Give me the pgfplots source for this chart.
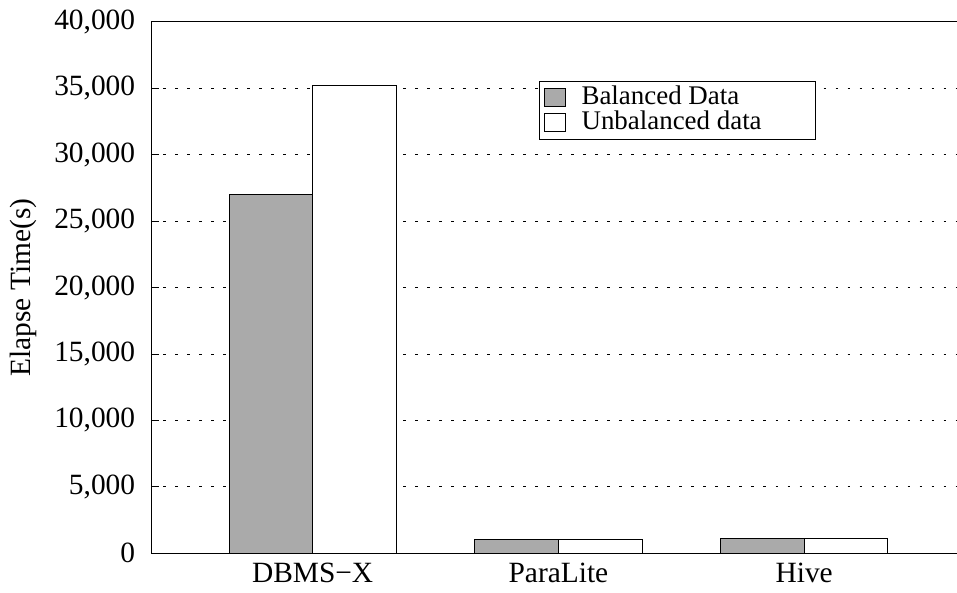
\documentclass[border=0pt]{standalone}
\usepackage{fontspec}
\setmainfont{Liberation Serif}
\usepackage{pgfplots}
\pgfplotsset{compat=1.18}
\definecolor{bargray}{HTML}{AAAAAA}
\begin{document}
\fontsize{29.5}{33}\selectfont
\begin{tikzpicture}
\begin{axis}[
  scale only axis,
  width=805bp, height=531bp,
  xmin=-0.657, xmax=2.62,
  ymin=0, ymax=40000,
  axis x line=box, axis y line=left,
  axis line style={-, black, line width=0.8pt},
  xtick={0,1,2},
  xticklabels={DBMS\textminus X, ParaLite, Hive},
  x tick style={draw=none},
  ytick={0,5000,...,40000},
  y tick style={black, line width=0.8pt},
  tick align=inside,
  major tick length=8bp,
  ymajorgrids,
  major grid style={black, line width=0.8pt, dash pattern=on 2.5bp off 9.5bp},
  /pgf/number format/assume math mode=true,
  yticklabel style={/pgf/number format/1000 sep={,}, font=\fontsize{29.5}{33}\selectfont, xshift=-6bp},
  xticklabel style={font=\fontsize{29.5}{33}\selectfont},
  scaled y ticks=false,
  ylabel={Elapse Time(s)},
  ylabel style={font=\fontsize{29.5}{33}\selectfont, yshift=-2bp},
  xticklabel shift=0bp,
  bar width=0.34,
  legend style={at={(0.482,0.889)}, anchor=north west, draw=black, line width=0.8pt,
    font=\fontsize{27}{29}\selectfont, inner xsep=4bp, inner ysep=3bp, row sep=-2bp,
    /tikz/every odd column/.append style={column sep=14bp}},
  legend cell align=left,
  legend image code/.code={\draw[#1, line width=0.8pt] (0bp,-9bp) rectangle (21bp,9bp);},
]
\addplot[ybar, bar shift=-0.17, fill=bargray, draw=black, line width=0.8pt]
  coordinates {(0,27000) (1,1030) (2,1100)};
\addlegendentry{Balanced Data}
\addplot[ybar, bar shift=0.17, fill=white, draw=black, line width=0.8pt]
  coordinates {(0,35200) (1,1030) (2,1100)};
\addlegendentry{Unbalanced data\hspace*{48bp}}
\end{axis}
\end{tikzpicture}
\end{document}
